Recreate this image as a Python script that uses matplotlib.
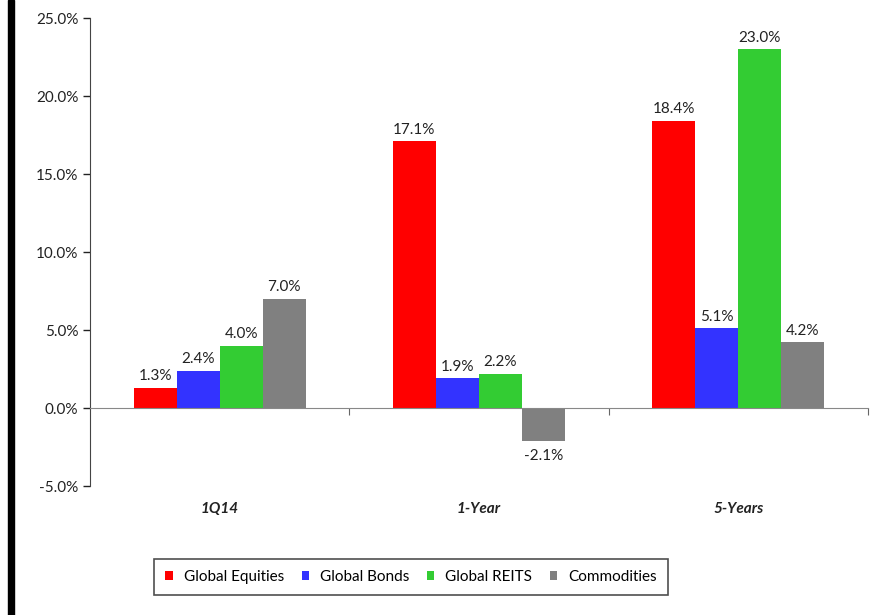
import matplotlib as mpl
mpl.use('Agg')
import matplotlib.pyplot as plt
import matplotlib.ticker as mticker
from matplotlib.patches import Rectangle
import numpy as np

plt.rcParams['font.family'] = ['Lato', 'DejaVu Sans']

categories = ['1Q14', '1-Year', '5-Years']
series = ['Global Equities', 'Global Bonds', 'Global REITS', 'Commodities']
equities = [1.3, 17.1, 18.4]
bonds = [2.4, 1.9, 5.1]
reits = [4.0, 2.2, 23.0]
commodities = [7.0, -2.1, 4.2]
colors = ['#FF0000', '#3333FF', '#33CC33', '#808080']

values = [equities, bonds, reits, commodities]

fig = plt.figure(figsize=(8.73, 6.15), dpi=100)
ax = fig.add_axes([90 / 873, 129 / 615, 778 / 873, 468 / 615])

x = np.arange(len(categories))
w = 0.166
for i, (vals, c, name) in enumerate(zip(values, colors, series)):
    pos = x + (i - 1.5) * w
    ax.bar(pos, vals, w, color=c, label=name, edgecolor='none')
    for p, v in zip(pos, vals):
        if v >= 0:
            ax.text(p, v + 0.3, f'{v:.1f}%', ha='center', va='bottom', fontsize=11, color='#222222')
        else:
            ax.text(p, v - 0.5, f'{v:.1f}%', ha='center', va='top', fontsize=11, color='#222222')

ax.set_xlim(-0.5, len(categories) - 0.5)
ax.set_ylim(-5, 25)
ax.yaxis.set_major_locator(mticker.MultipleLocator(5))
ax.yaxis.set_major_formatter(mticker.FuncFormatter(lambda v, _: f'{v:.1f}%'))
ax.tick_params(axis='y', direction='out', length=5, labelsize=11, colors='#222222', width=1)

for s in ['top', 'right']:
    ax.spines[s].set_visible(False)
ax.spines['left'].set_color('#444444')
ax.spines['bottom'].set_position(('data', 0))
ax.spines['bottom'].set_color('#888888')
ax.set_xticks([0.5, 1.5, 2.5])
ax.set_xticklabels([])
ax.tick_params(axis='x', direction='out', length=5, color='#666666')

for xi, cat in zip(x, categories):
    ax.text(xi, -0.035, cat, transform=ax.get_xaxis_transform(), ha='center', va='top',
            fontsize=11, fontweight='bold', fontstyle='italic', color='#222222')

leg = fig.legend(loc='center', bbox_to_anchor=(411 / 873, 1 - 577 / 615), ncol=4,
                 fontsize=11, frameon=True, fancybox=False, edgecolor='#222222',
                 handlelength=0.5, handleheight=0.5, columnspacing=1.15, handletextpad=0.7,
                 borderpad=0.75)
leg.get_frame().set_linewidth(1.2)

fig.patches.append(Rectangle((8 / 873, 0), 6 / 873, 1, transform=fig.transFigure,
                             color='black', zorder=10))

fig.savefig('out.png', dpi=100)
